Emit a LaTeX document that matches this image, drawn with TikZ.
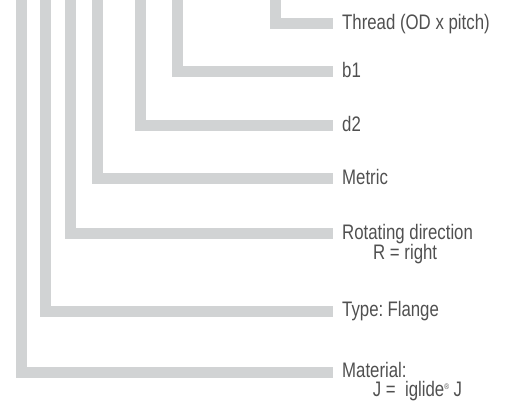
\documentclass[tikz,border=0pt]{standalone}
\usepackage{fontspec}
\setmainfont{Liberation Sans}[FakeStretch=0.8]
\definecolor{barc}{RGB}{209,211,212}
\definecolor{txtc}{RGB}{80,80,80}
\begin{document}
\begin{tikzpicture}[x=1pt,y=-1pt,
  bar/.style={draw=barc,line width=11pt,line cap=butt,line join=miter},
  lbl/.style={anchor=west,inner xsep=9pt,inner ysep=0pt,text height=11pt,text depth=0pt,
    font=\fontsize{21}{24}\selectfont,text=txtc},
  sub/.style={anchor=base west,inner sep=0pt,font=\fontsize{21}{24}\selectfont,text=txtc}]
\useasboundingbox (0,0) rectangle (505,412);
% labels
\node[lbl] (thr) at (333,23.8) {Thread (OD x pitch)};
\node[lbl] (b1) at (333,71.7) {b1};
\node[lbl] (d2) at (333,125.8) {d2};
\node[lbl] (met) at (333,178.8) {Metric};
\node[lbl] (rot) at (333,233.7) {Rotating direction};
\node[sub] (rot2) at (373,259) {R = right};
\node[lbl] (typ) at (333,311.2) {Type:\hspace{-2pt} Flange};
\node[lbl] (mat) at (333,372.2) {Material:};
\node[sub] (mat2) at (372.7,396.5) {J =\ \ iglide{\fontsize{8}{8}\selectfont\raisebox{7pt}{®}} J};
% top ends of the bars
\coordinate (t7) at (275.3,0);
\coordinate (t6) at (177,0);
\coordinate (t5) at (140.3,0);
\coordinate (t4) at (97.3,0);
\coordinate (t3) at (70,0);
\coordinate (t2) at (45.8,0);
\coordinate (t1) at (21.3,0);
% bars
\draw[bar] (t7) |- (thr.west);
\draw[bar] (t6) |- (b1.west);
\draw[bar] (t5) |- (d2.west);
\draw[bar] (t4) |- (met.west);
\draw[bar] (t3) |- (rot.west);
\draw[bar] (t2) |- (typ.west);
\draw[bar] (t1) |- (mat.west);
\end{tikzpicture}
\end{document}
